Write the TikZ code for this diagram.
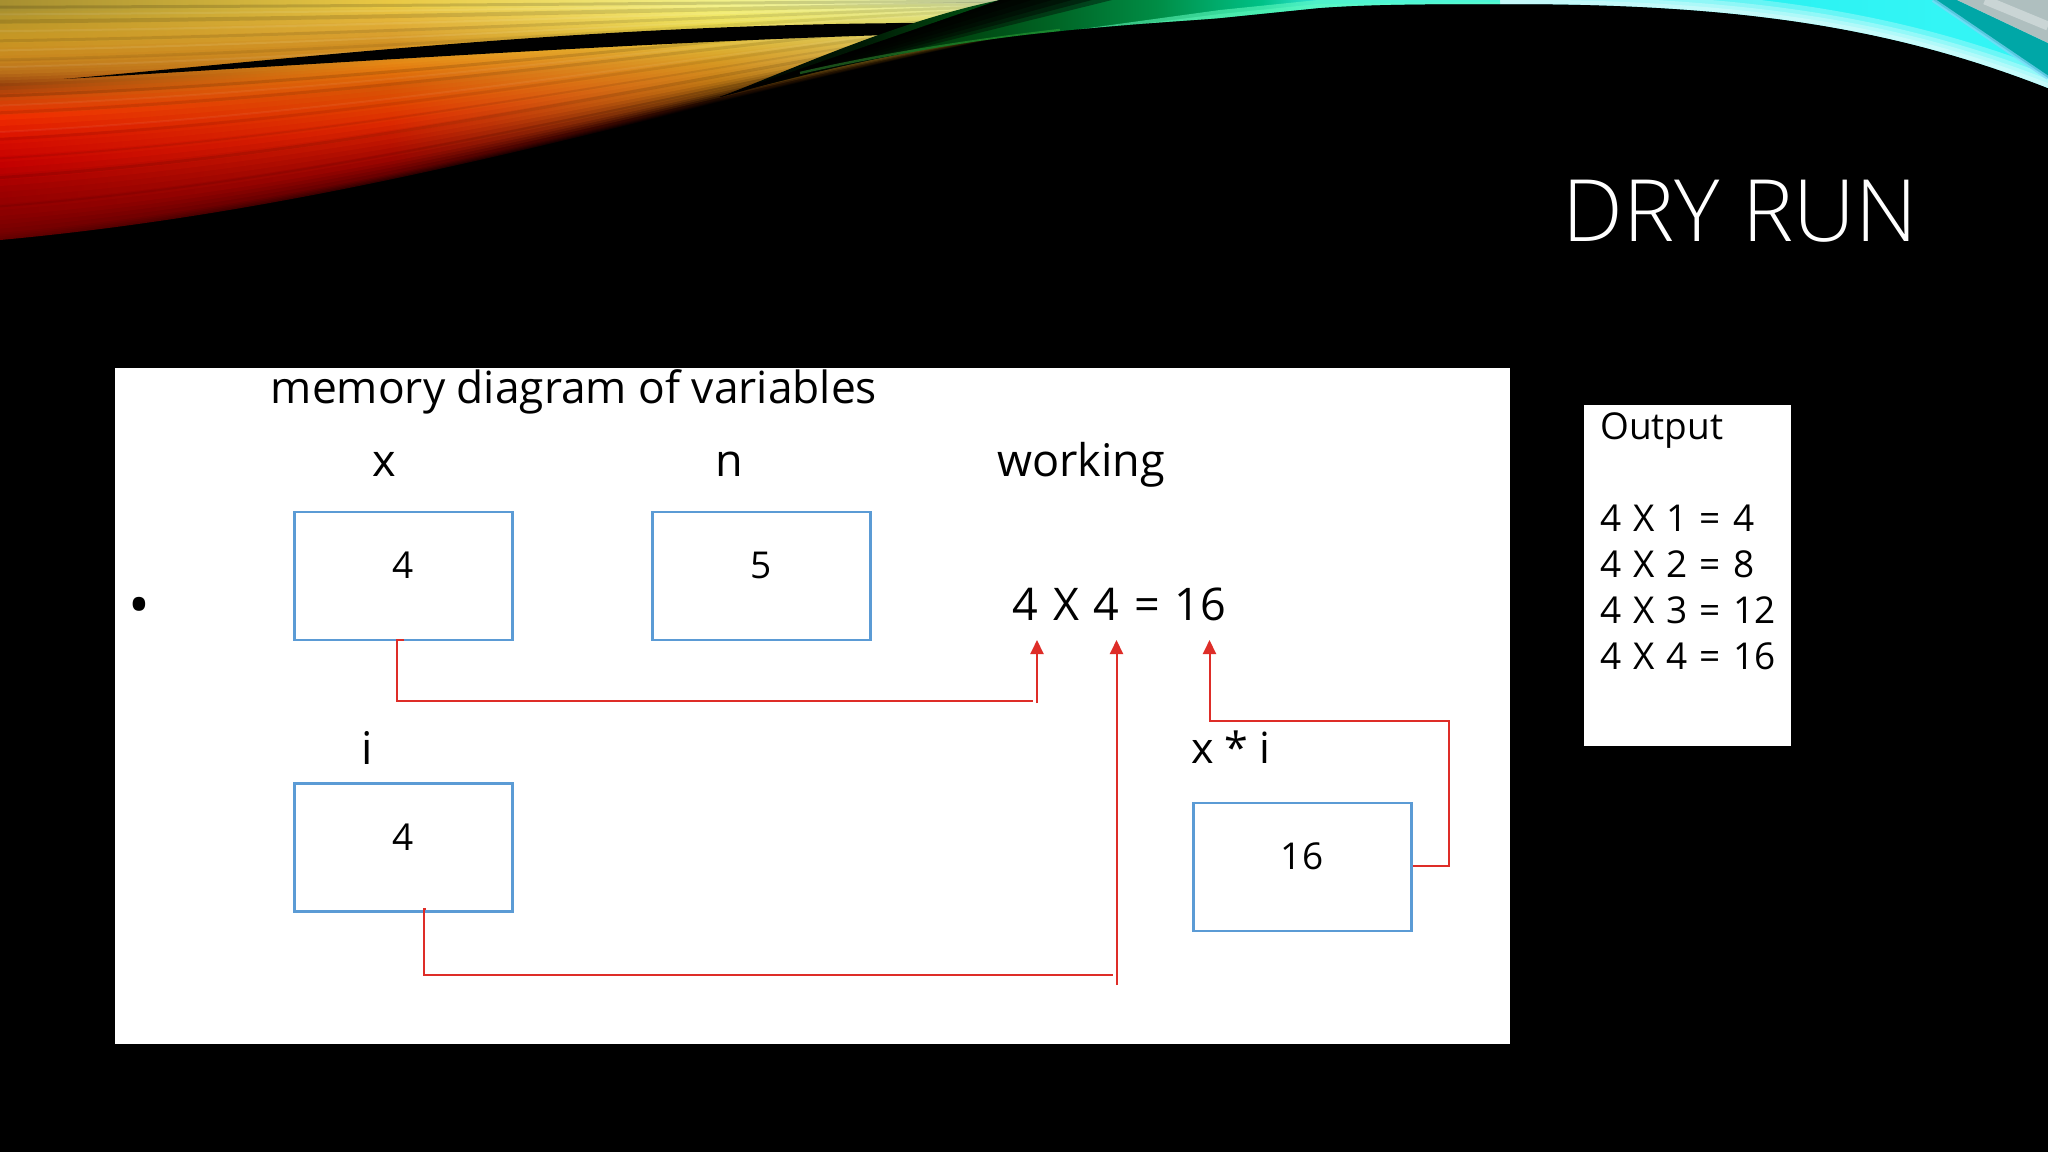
\documentclass[tikz,border=0pt]{standalone}
\usepackage{fontspec}
\setmainfont{Open Sans}
\newfontfamily\titlefont{Open Sans Light}
\newfontfamily\widefont[WordSpace=1.25]{Open Sans}
\usetikzlibrary{arrows.meta}
\definecolor{boxblue}{RGB}{91,155,213}
\definecolor{linkred}{RGB}{222,45,40}
% colour stops of the swoosh: L x=0, M x=390, N x=720, R x=1024
\definecolor{L0}{RGB}{100,0,0}\definecolor{L1}{RGB}{120,0,0}\definecolor{L2}{RGB}{140,0,0}\definecolor{L3}{RGB}{160,0,0}
\definecolor{L4}{RGB}{195,0,0}\definecolor{L5}{RGB}{215,12,0}\definecolor{L6}{RGB}{240,45,0}\definecolor{L7}{RGB}{205,70,8}
\definecolor{L8}{RGB}{150,65,12}\definecolor{L9}{RGB}{185,110,25}\definecolor{L10}{RGB}{200,135,30}\definecolor{L11}{RGB}{200,150,35}
\definecolor{L12}{RGB}{185,150,40}\definecolor{L13}{RGB}{160,140,50}
\definecolor{M0}{RGB}{50,0,0}\definecolor{M1}{RGB}{105,0,0}\definecolor{M2}{RGB}{155,5,0}\definecolor{M3}{RGB}{190,20,0}
\definecolor{M4}{RGB}{220,40,0}\definecolor{M5}{RGB}{225,65,0}\definecolor{M6}{RGB}{215,85,5}\definecolor{M7}{RGB}{225,110,10}
\definecolor{M8}{RGB}{230,135,20}\definecolor{M9}{RGB}{210,140,30}\definecolor{M10}{RGB}{210,145,35}\definecolor{M11}{RGB}{220,165,50}
\definecolor{M12}{RGB}{230,185,60}\definecolor{M13}{RGB}{235,205,70}
\definecolor{N0}{RGB}{0,0,0}\definecolor{N1}{RGB}{30,10,0}\definecolor{N2}{RGB}{120,70,10}\definecolor{N3}{RGB}{190,120,20}
\definecolor{N4}{RGB}{210,140,30}\definecolor{N5}{RGB}{215,155,35}\definecolor{N6}{RGB}{220,175,50}\definecolor{N7}{RGB}{225,190,60}
\definecolor{N8}{RGB}{225,195,60}\definecolor{N9}{RGB}{230,205,70}\definecolor{N10}{RGB}{235,220,80}\definecolor{N11}{RGB}{240,230,100}
\definecolor{N12}{RGB}{245,240,120}\definecolor{N13}{RGB}{240,240,140}
\definecolor{R0}{RGB}{0,0,0}\definecolor{R1}{RGB}{40,30,0}\definecolor{R2}{RGB}{120,110,30}\definecolor{R3}{RGB}{215,215,110}
\definecolor{R4}{RGB}{225,235,130}\definecolor{R5}{RGB}{225,235,130}\definecolor{R6}{RGB}{225,235,135}\definecolor{R7}{RGB}{225,235,140}
\definecolor{R8}{RGB}{225,235,145}\definecolor{R9}{RGB}{225,235,150}\definecolor{R10}{RGB}{225,235,155}\definecolor{R11}{RGB}{225,235,160}
\definecolor{R12}{RGB}{225,240,170}\definecolor{R13}{RGB}{225,240,190}
\colorlet{swa}{red}\colorlet{swb}{red}\colorlet{swc}{red}\colorlet{swd}{red}
\pgfdeclarehorizontalshading[swa,swb,swc,swd]{swooshshade}{100bp}{%
color(0bp)=(swa);color(25bp)=(swa);color(44bp)=(swb);color(60bp)=(swc);color(75bp)=(swd);color(100bp)=(swd)}
% wing: bbox 720..2048 maps to 25..75bp
\pgfdeclarehorizontalshading{wingshade}{100bp}{%
rgb(0bp)=(0,0,0);rgb(25bp)=(0,0,0);
rgb(30.3bp)=(0,0.1,0.02);rgb(34bp)=(0,0.27,0.06);rgb(37.4bp)=(0,0.39,0.14);rgb(41.4bp)=(0,0.55,0.27);
rgb(45.4bp)=(0,0.76,0.53);rgb(47.4bp)=(0.2,0.88,0.82);rgb(50.5bp)=(0.2,0.92,0.94);rgb(60bp)=(0.15,0.94,0.94);
rgb(71bp)=(0.2,0.96,0.96);rgb(75bp)=(0.2,0.96,0.96);rgb(100bp)=(0.2,0.96,0.96)}
\def\wingpath{(720,97) .. controls (790,70) and (900,20) .. (1000,0) -- (2048,0) -- (2048,88)
  .. controls (1900,30) and (1750,4) .. (1514,4) .. controls (1430,4) and (1370,4) .. (1318,8)
  -- (1220,18) .. controls (1200,20) and (1120,24) .. (1024,35) .. controls (900,50) and (800,75) .. (720,97) -- cycle}
\tikzset{
  varbox/.style={draw=boxblue,line width=2.4pt,fill=white,minimum width=218pt,minimum height=128pt,inner sep=0pt},
  val/.style={anchor=base,text=black,font=\fontsize{37}{37}\selectfont,inner sep=0pt},
  wideval/.style={val,font=\widefont\fontsize{37}{37}\selectfont},
  head/.style={anchor=base,text=black,font=\fontsize{45}{45}\selectfont,inner sep=0pt},
  link/.style={draw=linkred,line width=2pt},
  linkhead/.style={link,-{Triangle[length=14pt,width=13pt]}},
}
\begin{document}
\begin{tikzpicture}[x=1pt,y=-1pt]
\useasboundingbox (0,0) rectangle (2048,1152);
\fill[black] (0,0) rectangle (2048,1152);
% swoosh
\foreach \i/\j/\ta/\tb in {0/1/1/.97,1/2/.97/.9,2/3/.9/.8,3/4/.8/.7,4/5/.7/.6,5/6/.6/.5,6/7/.5/.42,7/8/.42/.36,8/9/.36/.31,9/10/.31/.25,10/11/.25/.18,11/12/.18/.1,12/13/.1/.03}{
  \foreach \k in {0,1,2,3}{
    \pgfmathsetmacro\t{\ta+(\tb-\ta)*\k/4}
    \pgfmathtruncatemacro\p{100-\k*25}
    \colorlet{swa}{L\i!\p!L\j}\colorlet{swb}{M\i!\p!M\j}\colorlet{swc}{N\i!\p!N\j}\colorlet{swd}{R\i!\p!R\j}
    \path[shading=swooshshade]
      (0,0) -- (0,240*\t) .. controls (380,205*\t) and (690,100*\t) .. (1024,33*\t) -- (1024,0) -- cycle;
  }
}
% streaks of the swoosh
\foreach \t/\w/\o/\c in {.03/3/.14/black,.06/2/.08/white,.09/4/.12/black,.13/2/.08/white,.17/3/.10/black,.21/2/.08/white,.25/3/.08/black,.28/2/.08/white,.40/3/.12/black,.44/2/.06/white,.47/3/.10/black,.55/2/.06/white,.58/3/.08/black,.66/2/.08/black,.74/3/.10/black,.86/2/.08/black}{
  \draw[line width=\w pt,draw=\c,opacity=\o] (0,240*\t) .. controls (380,205*\t) and (690,100*\t) .. (1024,33*\t);
}
% black sliver
\fill[black] (64,79) .. controls (300,58) and (600,23) .. (935,23) -- (888,35) .. controls (650,42) and (350,62) .. (64,79) -- cycle;
% wing
\begin{scope}
\clip \wingpath;
\path[shading=wingshade] (720,0) rectangle (2048,100);
\foreach \d in {0,20,40,60,80,100}{
  \fill[black,opacity=.4] (720,97) -- (1000,0) -- (1012+\d,0) -- cycle;
}
\foreach \w in {34,24,16,9}{
  \draw[white,line width=\w pt,opacity=.28] (1500,4) .. controls (1750,4) and (1900,30) .. (2048,88);
}
\fill[green!40!cyan!60!white,opacity=.55] (1060,32) -- (1220,10) -- (1318,0) -- (1500,0) -- (1500,8) -- (1318,12) -- (1220,22) -- cycle;
\fill[green!40!cyan!60!white,opacity=.4] (1110,28) -- (1220,14) -- (1318,4) -- (1500,2) -- (1500,8) -- (1318,12) -- (1220,22) -- cycle;
\draw[green!50!gray,line width=2.4pt,opacity=.4] (800,73) .. controls (900,50) and (1000,37) .. (1060,30);
\fill[black!0!teal!55!cyan!90!black] (1933,0) -- (1957,0) -- (2048,43) -- (2048,78) -- cycle;
\draw[cyan!50!white,line width=4pt,opacity=.7] (1933,0) -- (2048,78);
\fill[teal!25!gray!50!white] (1957,0) -- (2048,0) -- (2048,43) -- cycle;
\draw[white,line width=9pt,opacity=.35] (1985,0) -- (2048,26);
\end{scope}
% title
\node[anchor=base,text=white,font=\titlefont\fontsize{86}{86}\selectfont,inner sep=0pt] (title) at (1740,241) {DRY RUN};
% panel
\fill[white] (115,368) rectangle (1510,1044);
\node[head,font=\fontsize{44.3}{45}\selectfont] (memhead) at (574,403) {memory diagram of variables};
\node[head] (lx) at (384,476) {x};
\node[head] (ln) at (729,476) {n};
\node[head] (lw) at (1081,476) {working};
\node[head,font=\fontsize{58}{58}\selectfont] (bullet) at (139,625) {•};
\node[varbox] (bx) at (403.5,576) {};
\node[varbox] (bn) at (761.5,576) {};
\node[varbox] (bi) at (403.5,847.5) {};
\node[varbox] (br) at (1302.5,867) {};
\node[val] (vx) at (403,578) {4};
\node[val] (vn) at (761.5,578) {5};
\node[val] (vi) at (403,850) {4};
\node[val] (vr) at (1302,869) {16};
\node[head] (li) at (367,764) {i};
\node[head,font=\fontsize{43}{43}\selectfont] (lr) at (1231,763) {x * i};
\node[head,font=\widefont\fontsize{45}{45}\selectfont] (work) at (1119.5,620) {4 X 4 = 16};
% connectors
\coordinate (xa) at (404,640); \coordinate (xb) at (397,640); \coordinate (xc) at (397,701); \coordinate (xd) at (1033,701);
\coordinate (xe) at (1037,703); \coordinate (xf) at (1037,640);
\draw[link] (xa) -- (xb) -- (xc) -- (xd);
\draw[linkhead] (xe) -- (xf);
\coordinate (ia) at (426,909); \coordinate (ib) at (424,909); \coordinate (ic) at (424,975); \coordinate (id) at (1113,975);
\coordinate (ie) at (1116.5,985); \coordinate (if) at (1116.5,640);
\draw[link] (ia) -- (ib) -- (ic) -- (id);
\draw[linkhead] (ie) -- (if);
\coordinate (ra) at (1449,866); \coordinate (rb) at (1449,721); \coordinate (rc) at (1209.5,721); \coordinate (rd) at (1209.5,640);
\draw[linkhead] (br.east |- ra) -- (ra) -- (rb) -- (rc) -- (rd);
% output
\fill[white] (1584,405) rectangle (1791,746);
\foreach \n/\yy/\tx in {oa/439/Output,ob/531/4 X 1 = 4,oc/577/4 X 2 = 8,od/623/4 X 3 = 12,oe/669/4 X 4 = 16}{
  \node[wideval,anchor=base west] (\n) at (1600,\yy) {\tx};
}
\end{tikzpicture}
\end{document}
